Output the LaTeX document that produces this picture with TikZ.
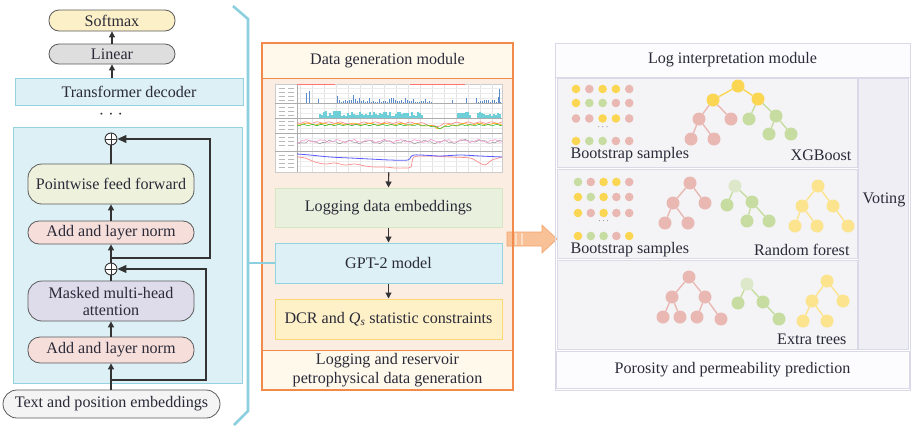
\documentclass[tikz,border=0pt]{standalone}
\usepackage{fontspec}
\setmainfont{Liberation Serif}
\usetikzlibrary{arrows.meta,calc}
\definecolor{txt}{HTML}{2A2A38}
\definecolor{lnc}{HTML}{333333}
\definecolor{boxline}{HTML}{5A5A5A}
\definecolor{smfill}{HTML}{FCF0C8}
\definecolor{linfill}{HTML}{DEDEDE}
\definecolor{pffill}{HTML}{EEF2DD}
\definecolor{anfill}{HTML}{F6DEDB}
\definecolor{mhfill}{HTML}{DEDBEB}
\definecolor{tpfill}{HTML}{F4F4F4}
\definecolor{bluefill}{HTML}{DCF0F5}
\definecolor{blueline}{HTML}{95D3E1}
\definecolor{bracecol}{HTML}{8CCFDE}
\definecolor{orline}{HTML}{F28A4B}
\definecolor{orhdr}{HTML}{FFF9EC}
\definecolor{orbody}{HTML}{FCEDE2}
\definecolor{grfill}{HTML}{E9F1DE}
\definecolor{grline}{HTML}{D5E7C2}
\definecolor{yefill}{HTML}{FEF1C8}
\definecolor{yeline}{HTML}{FAD876}
\definecolor{arrfill}{HTML}{F8C197}
\definecolor{arrline}{HTML}{F3A46A}
\definecolor{rline}{HTML}{DAD9E7}
\definecolor{rrow}{HTML}{F4F4F6}
\definecolor{rvote}{HTML}{EFEEF4}
\definecolor{rhdr}{HTML}{FCFCFE}
\definecolor{cy}{HTML}{FBD653}
\definecolor{cly}{HTML}{FCE38E}
\definecolor{cp}{HTML}{E9B8B3}
\definecolor{cg}{HTML}{C6DCA0}
\definecolor{clg}{HTML}{DCE8C9}
\definecolor{barblue}{HTML}{5A8CCB}
\definecolor{barcyan}{HTML}{6FCFD9}
\newcommand\sdots[4]{\foreach \c [count=\i from 0] in {#4} {\fill[\c] ({#1+#2*\i},#3) circle (4.3);}}
\begin{document}
\begin{tikzpicture}[x=1pt,y=-1pt, font=\fontsize{16.1}{18}\selectfont, text=txt,
  lbox/.style={draw=boxline, line width=0.8pt, minimum width=166pt, inner sep=0pt, align=center},
  bluebox/.style={draw=blueline, fill=bluefill, line width=1pt, inner sep=0pt},
  oplus/.style={circle, draw=lnc, fill=white, line width=0.9pt, minimum size=12pt, inner sep=0pt,
     path picture={\draw[lnc, line width=0.9pt] (path picture bounding box.north) -- (path picture bounding box.south) (path picture bounding box.west) -- (path picture bounding box.east);}},
  ln/.style={draw=lnc, line width=1.2pt},
  arr/.style={ln, -{Triangle[length=6pt,width=6pt]}},
  arrb/.style={ln, -{Triangle[length=9pt,width=8pt]}},
  mbox/.style={line width=1pt, minimum width=227pt, inner sep=0pt},
  ohdr/.style={draw=orline, fill=orhdr, line width=1pt, minimum width=251pt, inner sep=0pt, align=center},
  rrowbox/.style={draw=rline, fill=rrow, line width=0.8pt, minimum width=300pt, minimum height=89pt, inner sep=0pt},
  tdot/.style={circle, fill=#1, minimum size=13pt, inner sep=0pt},
  tedge/.style={draw=#1, line width=1.4pt},
]
\useasboundingbox (0,0) rectangle (914,432);

% ---------------- left: transformer decoder ----------------
\node[lbox, fill=smfill, minimum width=126pt, minimum height=21pt, rounded corners=10pt] (sm) at (112,20.5) {Softmax};
\node[lbox, fill=linfill, minimum width=126pt, minimum height=20pt, rounded corners=10pt] (lin) at (112,54) {Linear};
\node[bluebox, minimum width=228pt, minimum height=27pt] (td) at (129,91.5) {Transformer decoder};
\node (dots) at (111,116) {· · ·};
\node[bluebox, minimum width=229pt, minimum height=256pt] (bb) at (127.5,255) {};
\node[oplus] (p1) at (111,139) {};
\node[lbox, fill=pffill, minimum height=40pt, rounded corners=14pt] (pff) at (111,184) {Pointwise feed forward};
\node[lbox, fill=anfill, minimum height=23pt, rounded corners=11pt] (an1) at (111,232.5) {Add and layer norm};
\node[oplus] (p2) at (111,269) {};
\node[lbox, fill=mhfill, minimum height=40pt, rounded corners=14pt] (mha) at (111,301) {Masked multi-head\\[-1pt]attention};
\node[lbox, fill=anfill, minimum height=26pt, rounded corners=12pt] (an2) at (111,350) {Add and layer norm};
\node[lbox, fill=tpfill, minimum width=217pt, minimum height=28pt, rounded corners=14pt] (tpe) at (111.5,404) {Text and position embeddings};

\draw[arr] (tpe.north -| an2.south) -- (an2.south);
\draw[arr] (an2.north) -- (mha.south);
\draw[ln] (mha.north) -- (p2.south);
\draw[arr] (p2.north) -- (an1.south);
\draw[arr] (an1.north) -- (pff.south);
\draw[ln] (pff.north) -- (p1.south);
\coordinate (b1) at (111,380); \coordinate (c1) at (206,380);
\draw[arrb] (b1) -- (c1) |- (p2.east);
\coordinate (b2) at (111,258); \coordinate (c2) at (210,258);
\draw[arrb] (b2) -- (c2) |- (p1.east);
\draw[arr] (td.north -| lin.south) -- (lin.south);
\draw[arr] (lin.north) -- (sm.south);

% brace
\coordinate (br1) at (233,6); \coordinate (br2) at (248,19);
\coordinate (br3) at (248,411); \coordinate (br4) at (234,425);
\coordinate (brm) at (248,263);
\draw[bracecol, line width=2.6pt, line join=miter] (br1) -- (br2) -- (br3) -- (br4);

% ---------------- middle: data generation ----------------
\fill[orbody] (262,78) rectangle (513,350);
% big arrow
\filldraw[fill=arrfill, draw=arrline, line width=0.6pt] (507,232) -- (542,232) -- (542,225) -- (557,239) -- (542,253) -- (542,246) -- (507,246) -- cycle;
\draw[white, opacity=0.45, line width=1.2pt] (516,233) -- (516,245) (522,233) -- (522,245);
\node[ohdr, minimum height=35pt] (dgm) at (387.5,60.5) {Data generation module};
\node[ohdr, minimum height=40pt, font=\fontsize{16.1}{19}\selectfont] (ftr) at (387.5,370) {Logging and reservoir\\petrophysical data generation};
\draw[orline, line width=1.2pt] (262,43) rectangle (513,390);

% chart
\node[draw=gray!40, fill=white, minimum width=227pt, minimum height=88pt, inner sep=0pt, anchor=north west] (chart) at (275,84) {};
\begin{scope}
\clip (275,84) rectangle (502,172);
\foreach \x in {300,312,...,500} \draw[gray!22, line width=0.3pt] (\x,84) -- (\x,172);
\foreach \y in {88,93,98,108,113,123,128,138,143,146,156,161,166} \draw[gray!15, line width=0.3pt] (297,\y) -- (502,\y);
\foreach \y in {103,118,133,151} \draw[gray!65, line width=0.6pt] (275,\y) -- (502,\y);
\draw[gray!65, line width=0.6pt] (297,84) -- (297,172);
\foreach \y in {88,92,96,100,107,111,115,121,125,129,137,141,145,155,159,163,167} {
  \draw[gray!55, line width=0.6pt] (279,\y) -- (285,\y) (288,\y) -- (294,\y);}
\draw[red!55, line width=1pt] (297,84.6) -- (335,84.6) (410,84.6) -- (465,84.6);
\pgfmathsetseed{11}
% track 1: blue bars
\foreach \xx in {337,339,...,431} {
  \pgfmathsetmacro\hh{0.5+9*rnd*rnd}
  \draw[barblue, line width=0.9pt] (\xx,102.5) -- (\xx,{102.5-\hh});}
\foreach \xx in {476,478,...,501} {
  \pgfmathsetmacro\hh{0.5+8*rnd*rnd}
  \draw[barblue, line width=0.9pt] (\xx,102.5) -- (\xx,{102.5-\hh});}
\foreach \xx/\hh in {306/10,309/12,318/4,452/3,466/5,499/14} {
  \draw[barblue, line width=0.7pt] (\xx,102.5) -- (\xx,{102.5-\hh});}
% track 2: cyan bars
\foreach \xx in {320,322,...,422} {
  \pgfmathsetmacro\hh{1.5+5*rnd}
  \draw[barcyan, line width=1.3pt] (\xx,117.5) -- (\xx,{117.5-\hh});}
\foreach \xx in {458,460,...,470} {
  \pgfmathsetmacro\hh{1+5*rnd}
  \draw[barcyan, line width=1.3pt] (\xx,117.5) -- (\xx,{117.5-\hh});}
\foreach \xx in {478,480,...,501} {
  \pgfmathsetmacro\hh{1.5+5*rnd}
  \draw[barcyan, line width=1.3pt] (\xx,117.5) -- (\xx,{117.5-\hh});}
% track 3
\draw[red!50, line width=0.6pt] plot[domain=297:502, samples=90, smooth] (\x, {122.5+0.8*sin((\x-297)*31)+4/(1+((\x-435)/7)^2)+3/(1+((\x-353)/3)^2)});
\draw[orange!70!yellow, line width=0.6pt] plot[domain=297:502, samples=90, smooth] (\x, {124+0.9*sin((\x-297)*23+40)+4/(1+((\x-438)/8)^2)});
\draw[green!50!gray, line width=0.6pt] plot[domain=297:502, samples=90, smooth] (\x, {125+0.7*sin((\x-297)*41)+3/(1+((\x-440)/6)^2)});
% track 4
\draw[gray!75, line width=0.6pt] plot[domain=297:502, samples=90, smooth] (\x, {142+1.3*sin((\x-297)*19)+0.7*sin((\x-297)*53)-2/(1+((\x-470)/6)^2)});
\draw[magenta!40, line width=0.6pt] plot[domain=297:502, samples=90, smooth] (\x, {141+1.2*sin((\x-297)*23+60)+0.6*sin((\x-297)*61)});
% track 5
\draw[red!45, line width=0.7pt] plot[smooth, tension=0.5] coordinates {(297,157) (305,158) (315,162) (325,164) (335,163) (345,165) (355,164) (365,166) (375,167) (385,167) (395,168) (405,168) (411,167) (414,157) (430,156) (450,157) (470,158) (478,162) (485,165) (492,160) (502,157)};
\draw[blue!65, line width=0.8pt] plot[smooth, tension=0.5] coordinates {(297,154) (310,155) (330,157) (350,158) (370,159) (390,160) (408,160) (414,155) (440,156) (460,155) (480,156) (502,157)};
\end{scope}

\node[mbox, draw=grline, fill=grfill, minimum height=39pt] (lde) at (388.5,207.5) {Logging data embeddings};
\node[mbox, draw=blueline, fill=bluefill, minimum height=40pt] (gpt) at (388.5,263) {GPT-2 model};
\node[mbox, draw=yeline, fill=yefill, minimum height=40pt] (dcr) at (388.5,319) {DCR and {\itshape Q}\textsubscript{\itshape s} statistic constraints};
\draw[arr] (chart.south) -- (lde.north);
\draw[arr] (lde.south) -- (gpt.north);
\draw[arr] (gpt.south) -- (dcr.north);
\draw[bracecol, line width=2pt] (brm) -- (gpt.west);

% ---------------- right: log interpretation ----------------
\node[draw=rline, fill=rhdr, line width=0.8pt, minimum width=355pt, minimum height=34pt, inner sep=0pt] (lim) at (732.5,60) {Log interpretation module};
\node[rrowbox] (xg) at (707,122.5) {};
\node[rrowbox] (rf) at (707,213.5) {};
\node[rrowbox] (et) at (707,304.5) {};
\node[draw=rline, fill=rvote, line width=0.8pt, minimum width=50pt, minimum height=271pt, inner sep=0pt] (vote) at (883,213.5) {};
\node (votel) at (884,200) {Voting};
\node[draw=rline, fill=rhdr, line width=0.8pt, minimum width=353pt, minimum height=37pt, inner sep=0pt] (pred) at (732.5,369.5) {Porosity and permeability prediction};
\draw[rline, line width=1pt] (555,43) rectangle (910,390);

% samples
\sdots{576}{13.3}{89}{cy,cp,cy,cy,cp}
\sdots{576}{13.3}{103}{cy,cg,cg,cp,cp}
\sdots{576}{13.3}{118.5}{cp,cp,cy,cy,cp}
\node[font=\fontsize{9}{9}\selectfont] at (603,127) {$\cdots$};
\sdots{576}{13.3}{141}{cy,cg,cg,cp,cp}
\node[anchor=west] (bs1) at (567,155) {Bootstrap samples};
\node[anchor=east] (xgl) at (855,155) {XGBoost};

\sdots{578}{12.8}{182}{cg,cp,cy,cy,cp}
\sdots{578}{12.8}{197}{cy,cg,cy,cp,cp}
\sdots{578}{12.8}{213}{cy,cp,cy,cp,cp}
\node[font=\fontsize{9}{9}\selectfont] at (603.5,221) {$\cdots$};
\sdots{578}{12.8}{236}{cy,cg,cg,cp,cy}
\node[anchor=west] (bs2) at (567,250) {Bootstrap samples};
\node[anchor=east] (rfl) at (853,250) {Random forest};
\node[anchor=east] (etl) at (850,339) {Extra trees};

% XGBoost tree
\node[tdot=cy] (x0) at (738,86) {};
\node[tdot=cy] (x1) at (713,100) {};
\node[tdot=cy] (x2) at (758,99) {};
\node[tdot=cp] (x3) at (699,119) {};
\node[tdot=cp] (x4) at (731,119) {};
\node[tdot=cg] (x5) at (749,119) {};
\node[tdot=cg] (x6) at (776,116) {};
\node[tdot=cp] (x7) at (691,139) {};
\node[tdot=cp] (x8) at (714,139) {};
\node[tdot=cg] (x9) at (769,134) {};
\node[tdot=cg] (x10) at (791,134) {};
\draw[tedge=cy] (x0) -- (x1) (x0) -- (x2);
\draw[tedge=cp] (x1) -- (x3) (x1) -- (x4) (x3) -- (x7) (x3) -- (x8);
\draw[tedge=cg] (x2) -- (x5) (x2) -- (x6) (x6) -- (x9) (x6) -- (x10);

% Random forest trees
\node[tdot=cp] (ra0) at (690,183) {};
\node[tdot=cp] (ra1) at (673,203) {};
\node[tdot=cp] (ra2) at (705,203) {};
\node[tdot=cp] (ra3) at (665,223) {};
\node[tdot=cp] (ra4) at (688,223) {};
\draw[tedge=cp] (ra0) -- (ra1) (ra0) -- (ra2) (ra1) -- (ra3) (ra1) -- (ra4);
\node[tdot=clg] (rb0) at (735,186) {};
\node[tdot=cg] (rb1) at (727,205) {};
\node[tdot=cg] (rb2) at (752,202) {};
\node[tdot=cg] (rb3) at (747,221) {};
\node[tdot=cg] (rb4) at (769,221) {};
\draw[tedge=cg] (rb0) -- (rb1) (rb0) -- (rb2) (rb2) -- (rb3) (rb2) -- (rb4);
\node[tdot=cly] (rc0) at (818,186) {};
\node[tdot=cly] (rc1) at (802,206) {};
\node[tdot=cly] (rc2) at (833,206) {};
\node[tdot=cly] (rc3) at (795,226) {};
\node[tdot=cly] (rc4) at (817,226) {};
\node[tdot=cly] (rc5) at (848,226) {};
\draw[tedge=cly] (rc0) -- (rc1) (rc0) -- (rc2) (rc1) -- (rc3) (rc1) -- (rc4) (rc2) -- (rc5);

% Extra trees
\node[tdot=cp] (ea0) at (689,277) {};
\node[tdot=cp] (ea1) at (672,297) {};
\node[tdot=cp] (ea2) at (705,297) {};
\node[tdot=cp] (ea3) at (663,317) {};
\node[tdot=cp] (ea4) at (680,317) {};
\node[tdot=cp] (ea5) at (697,317) {};
\node[tdot=cp] (ea6) at (721,319) {};
\draw[tedge=cp] (ea0) -- (ea1) (ea0) -- (ea2) (ea1) -- (ea3) (ea1) -- (ea4) (ea2) -- (ea5) (ea2) -- (ea6);
\node[tdot=clg] (eb0) at (747,284) {};
\node[tdot=cg] (eb1) at (738,303) {};
\node[tdot=cg] (eb2) at (763,302) {};
\node[tdot=cg] (eb3) at (779,319) {};
\draw[tedge=cg] (eb0) -- (eb1) (eb0) -- (eb2) (eb2) -- (eb3);
\node[tdot=cly] (ec0) at (827,281) {};
\node[tdot=cly] (ec1) at (812,301) {};
\node[tdot=cly] (ec2) at (843,301) {};
\node[tdot=cly] (ec3) at (803,321) {};
\node[tdot=cly] (ec4) at (827,321) {};
\draw[tedge=cly] (ec0) -- (ec1) (ec0) -- (ec2) (ec1) -- (ec3) (ec1) -- (ec4);
\end{tikzpicture}
\end{document}
